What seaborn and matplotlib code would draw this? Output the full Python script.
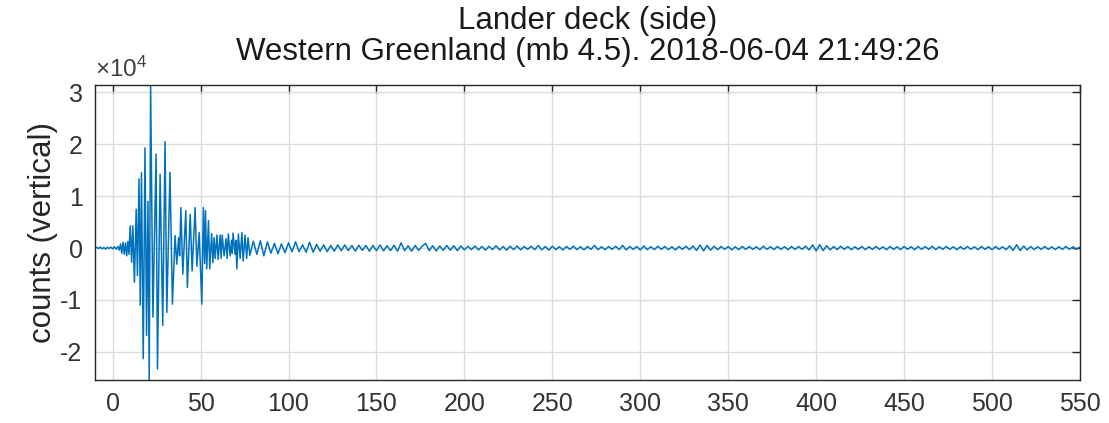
import numpy as np
import pandas as pd
import matplotlib
matplotlib.use("Agg")
import matplotlib.pyplot as plt
import matplotlib.ticker as mticker
import seaborn as sns

# Pre-event noise and main arrivals: turning points (seconds, counts)
onset_t = [-10, -9, -8, -7, -6, -5, -4, -3, -2, -1, 0, 1, 2, 3, 3.8, 4.5, 5.2,
           5.9, 6.6, 7.3, 8.0, 8.7, 9.3]
onset_counts = [0, 150, -100, 200, -150, 100, -200, 150, -100, 200, -150, 250,
                -200, 300, -400, 800, -1000, 1100, -1200, 1000, -1500, 1300, -1200]

main_t = [10.0, 10.8, 11.5, 12.4, 13.4, 14.1, 15.0, 15.7, 16.4, 17.4, 18.4, 19.3,
          20.1, 20.8, 21.6, 22.9, 24.7, 25.5, 27.0, 28.5, 29.8, 30.8, 32.6, 34.0,
          35.5, 36.5, 37.5, 38.1, 38.8, 39.9, 41.6, 42.5, 44.1, 45.2, 46.9, 47.9,
          49.2, 50.7, 51.6, 52.3, 52.8, 53.5, 54.5, 55.2, 56.3, 57.0, 57.7, 58.3,
          59.3, 60.0, 61.1, 61.7, 62.3, 63.4, 64.5, 65.1, 65.8, 66.8, 67.6, 68.0,
          68.5, 69.6, 70.1, 70.6, 71.5, 72.5, 73.5, 74.2, 75.3, 76.2, 77.0]
main_counts = [4300, -2700, 4300, -6600, 7500, -5300, 13300, -11000, 14500, -21300,
               19300, -16800, 9000, -25400, 31400, -13300, 18100, -23300, 14200,
               -14900, 20500, -12400, 14600, -10800, 2400, -3100, 2000, -1500, 7800,
               -5000, 7200, -7600, 6500, -4400, 7800, -3500, 3000, -10800, 7800,
               -3000, 7200, -4000, 5300, -4000, 2800, -2800, 2000, -2000, 2500,
               -2200, 2500, -2000, 2500, -1500, 1800, -2000, 2700, -1500, 1500,
               -1000, 2900, -1200, 1500, -4000, 2700, -2000, 3000, -2500, 2500,
               -2000, 2000]

# Coda: peaks sampled every 2 s from 78 s to 550 s
coda_start = 78
coda_step = 2
coda_counts = [
    -1400, 1300, -1200, 1400, -1500, 1200, -1000, 900, -1100, 800, -900, 1000,
    -700, 1200, -700, 600, -800, 1100, -800, 700, -600, 600, -700, 500, -600, 600, -500,
    600, -500, 500, -600, 550, -450, 500, -600, 500, -500, 600, -550, 450, -500, 550,
    -600, 1000, -500, 450, -600, 500, -450, 350, 900, -500, 450, -550, 400, -450, 500,
    -400, 450, -500, 400, -350,
    350, -300, 400, -350, 300, -400, 350, -300, 450, -350,
    300, -400, 350, -300, 400, -350, 300, -250, 350, -300,
    500, -350, 300, -400, 350, -300, 250, -350, 300, -250,
    350, -300, 250, -350, 300, -250, 500, -300, 250, -300,
    300, -250, 350, -300, 500, -350, 300, -250, 300, -350,
    400, -300, 250, -300, 350, -250, 300, -300, 250, -350,
    300, -250, 350, -300, 400, -450, 600, -550, 500, -400,
    350, -300, 300, -250, 300, -350, 250, -300, 300, -250,
    300, -250, 250, -300, 350, -250, 250, -300, 300, -250,
    250, -300, 300, -250, 300, -250, 350, -350, 600, -550,
    650, -500, 450, -350, 300, -300, 350, -250, 300, -300,
    250, -250, 300, -300, 250, -250, 300, -250, 250, -300,
    300, -250, 250, -300, 300, -250, 250, -300, 300, -250,
    300, -250, 350, -300, 250, -250, 300, -250, 250, -300,
    250, -250, 300, -250, 250, -300, 300, -250, 250, -300,
    300, -250, 250, -300, 400, -450, 650, -500, 400, -350,
    300, -300, 250, -250, 300, -250, 250, -300, 250, -250,
    300, -250, 250, -250, 200,
]
coda_t = coda_start + coda_step * np.arange(len(coda_counts))

title_lines = ["Lander deck (side)",
               "Western Greenland (mb 4.5). 2018-06-04 21:49:26"]
y_label = "counts (vertical)"
x_ticks = list(range(0, 551, 50))
y_ticks = [-20000, -10000, 0, 10000, 20000, 30000]
y_scale = 1e4

trace = pd.DataFrame({
    "time": np.concatenate([onset_t, main_t, coda_t]).astype(float),
    "counts": np.concatenate([onset_counts, main_counts, coda_counts]).astype(float),
})

sns.set_style("whitegrid")
plt.rcParams["font.family"] = ["Liberation Sans", "DejaVu Sans"]
plt.rcParams["axes.unicode_minus"] = False
plt.rcParams["mathtext.fontset"] = "custom"
plt.rcParams["mathtext.rm"] = "Liberation Sans"
plt.rcParams["mathtext.it"] = "Liberation Sans"

fig = plt.figure(figsize=(11.09, 4.23), dpi=100)
ax = fig.add_axes([0.0857, 0.1017, 0.8881, 0.6974])

sns.lineplot(data=trace, x="time", y="counts", ax=ax, color="#0072BD",
             linewidth=1.1, estimator=None, sort=True)

ax.set_xlim(-10, 550)
ax.set_ylim(trace["counts"].min(), trace["counts"].max())
ax.set_xticks(x_ticks)
ax.set_yticks(y_ticks)
ax.yaxis.set_major_formatter(
    mticker.FuncFormatter(lambda v, _: f"{v / y_scale:g}"))

# exponent label above the top-left corner of the axes
ax.text(0.0, 1.01, "×10$^{4}$", transform=ax.transAxes, ha="left",
        va="bottom", fontsize=17.5, color="#404040")

ax.set_xlabel("")
ax.set_ylabel(y_label, fontsize=22.5, color="#262626", labelpad=2)
ax.set_title("\n".join(title_lines), fontsize=22.5, color="#1a1a1a",
             linespacing=1.05, pad=18)

ax.grid(True, color="#dcdcdc", linewidth=1.0)
ax.tick_params(axis="both", which="major", direction="in", length=6, width=1,
               top=True, right=True, labelsize=18, colors="#262626",
               labelcolor="#333333", pad=9)
for side in ["left", "right", "top", "bottom"]:
    ax.spines[side].set_visible(True)
    ax.spines[side].set_color("#262626")
    ax.spines[side].set_linewidth(1.0)

fig.savefig("out.png", dpi=100, facecolor="white")
